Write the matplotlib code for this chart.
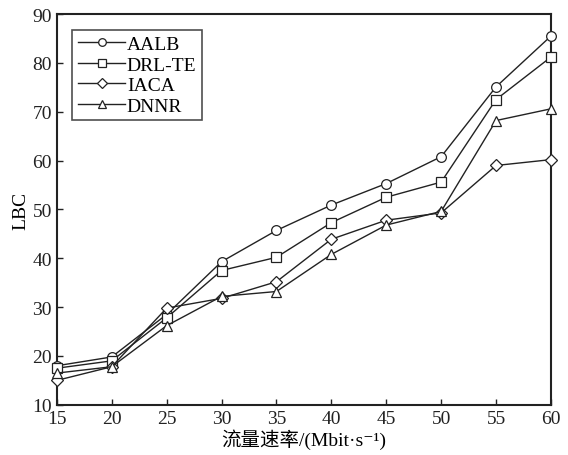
import numpy as np
import matplotlib
matplotlib.use("Agg")
import matplotlib.pyplot as plt

plt.rcParams['font.family'] = ['Liberation Serif', 'Noto Sans CJK SC', 'DejaVu Serif']

# 数据
rate = [15, 20, 25, 30, 35, 40, 45, 50, 55, 60]
aalb = [18.0, 19.8, 28.5, 39.3, 45.7, 50.9, 55.3, 60.8, 75.1, 85.5]
drl_te = [17.5, 19.0, 27.8, 37.5, 40.2, 47.3, 52.5, 55.6, 72.5, 81.2]
iaca = [15.0, 17.8, 29.8, 31.8, 35.2, 43.9, 47.8, 49.3, 59.0, 60.2]
dnnr = [16.5, 17.8, 26.2, 32.2, 33.2, 40.8, 46.8, 49.6, 68.2, 70.6]

series = [("AALB", aalb, "o"), ("DRL-TE", drl_te, "s"),
          ("IACA", iaca, "D"), ("DNNR", dnnr, "^")]

fig = plt.figure(figsize=(5.68, 4.56), dpi=100)
ax = fig.add_axes([0.100, 0.110, 0.870, 0.857])

for name, vals, mk in series:
    ms = 7.0 if mk != "D" else 6.0
    ax.plot(rate, vals, color="#222222", linewidth=1.0, marker=mk,
            markersize=ms, markerfacecolor="white", markeredgecolor="#222222",
            markeredgewidth=0.9, label=name, clip_on=False, zorder=3)

ax.set_xlim(15, 60)
ax.set_ylim(10, 90)
ax.set_xticks(range(15, 61, 5))
ax.set_yticks(range(10, 91, 10))
ax.tick_params(direction="in", labelsize=14, length=4, width=1, colors="#222222")
for s in ax.spines.values():
    s.set_linewidth(1.5)
    s.set_color("#222222")

ax.set_xlabel("流量速率/(Mbit·s⁻¹)", fontsize=14, labelpad=1)
ax.set_ylabel("LBC", fontsize=14, labelpad=2)

leg = ax.legend(loc="upper left", fontsize=14, frameon=True, fancybox=False,
                edgecolor="#222222", borderpad=0.3, labelspacing=0.15,
                handlelength=2.4, handletextpad=0.1, borderaxespad=0.8)
leg.get_frame().set_linewidth(1.2)
for h in leg.legend_handles:
    h.set_markersize(5.5)

fig.savefig("out.png", dpi=100)
